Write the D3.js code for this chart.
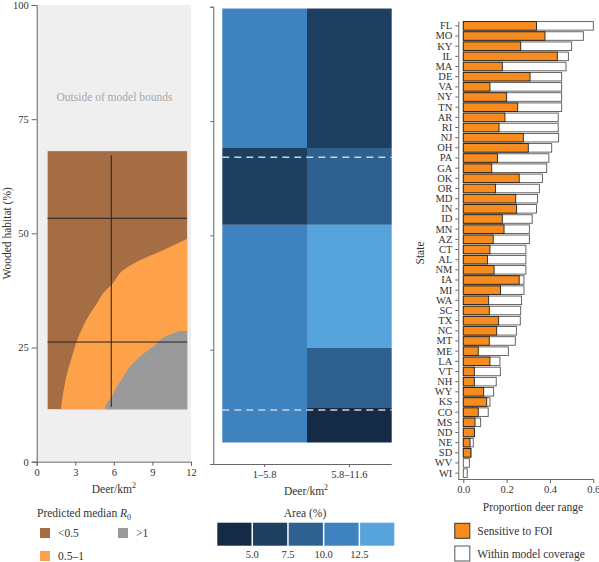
<!DOCTYPE html>
<html lang="en">
<head>
<meta charset="utf-8">
<title>R0 by deer density and wooded habitat</title>
<script src="https://d3js.org/d3.v7.min.js"></script>
<style>
  body { margin: 0; background: #fff; }
  svg { font-family: "Liberation Serif", "DejaVu Serif", serif; }
  .axis path, .axis line { stroke: #666; }
  .axis text { fill: #333; font-size: 10.5px; font-family: "Liberation Serif", serif; }
  .lbl { fill: #333; font-size: 11.5px; }
</style>
</head>
<body>
<svg width="599" height="562"></svg>
<script>
// ---- left panel: R0 regions (deer/km2, wooded %) ----
var deerRange = [0.85, 11.7];
var woodRange = [11.5, 68];
// boundary where median R0 crosses 0.5 (brown -> orange)
var lowBoundWood = [11.5, 13.5, 17.2, 20.1, 22.9, 26.0, 28.2, 31.7, 34.7, 36.9, 39.1, 41.9, 44.1, 46.3, 48.8];
var lowBoundDeer = [1.89, 1.97, 2.20, 2.43, 2.74, 3.06, 3.37, 3.99, 4.69, 5.16, 5.93, 6.71, 8.03, 9.82, 11.69];
// boundary where median R0 crosses 1 (orange -> grey)
var highBoundWood = [11.5, 12.4, 14.2, 16.4, 18.6, 20.8, 23.0, 25.2, 27.5, 28.6];
var highBoundDeer = [5.31, 5.39, 5.83, 6.22, 6.74, 7.26, 8.03, 9.07, 10.1, 11.1];
var crossDeer = 5.8;
var crossWood = [53.3, 26.2];
var crossWoodSpan = [12.0, 67.1];

// ---- middle panel: area (%) by bins ----
var deerBins = ["1\u20135.8", "5.8\u201311.6"];
var cellBin  = [0, 0, 0, 1, 1, 1, 1, 1];
var cellLo   = [69.1, 52.3, 4.7, 69.1, 52.3, 25.4, 12.4, 4.7];
var cellHi   = [99.6, 69.1, 52.3, 99.6, 69.1, 52.3, 25.4, 12.4];
var cellArea = [11, 6.5, 11.5, 6, 8.5, 13.5, 8.5, 3];
var boundLines = [67.1, 11.8];
var areaBreaks = [5, 7.5, 10, 12.5];
var areaColors = ["#152b45", "#1e3f5f", "#2e6190", "#3e82bf", "#57a3dc"];

// ---- right panel: proportion of deer range by state ----
var states = ["FL","MO","KY","IL","MA","DE","VA","NY","TN","AR","RI","NJ","OH","PA","GA","OK","OR","MD","IN","ID","MN","AZ","CT","AL","NM","IA","MI","WA","SC","TX","NC","MT","ME","LA","VT","NH","WY","KS","CO","MS","ND","NE","SD","WV","WI"];
var coverage = [0.60,0.554,0.50,0.485,0.474,0.454,0.454,0.454,0.454,0.438,0.438,0.44,0.408,0.395,0.385,0.365,0.351,0.343,0.338,0.318,0.305,0.305,0.289,0.289,0.289,0.28,0.28,0.269,0.265,0.263,0.245,0.24,0.208,0.169,0.171,0.152,0.14,0.123,0.115,0.08,0.051,0.046,0.035,0.028,0.018];
var sensitive = [0.338,0.377,0.265,0.434,0.18,0.308,0.123,0.20,0.251,0.192,0.165,0.277,0.30,0.158,0.131,0.258,0.149,0.242,0.246,0.18,0.188,0.138,0.123,0.112,0.142,0.258,0.172,0.117,0.12,0.163,0.154,0.12,0.069,0.123,0.051,0.051,0.094,0.108,0.069,0.054,0.051,0.031,0.035,0,0];

var svg = d3.select("svg");
var brown = "#a56d43", orange = "#fda24b", grey = "#9a9a9a";

// ===== left panel =====
var x1 = d3.scaleLinear().domain([0, 12]).range([36.7, 191]);
var y1 = d3.scaleLinear().domain([0, 100]).range([461.7, 5]);
var left = svg.append("g");

left.append("rect")
  .attr("x", x1(0)).attr("y", y1(100))
  .attr("width", x1(12) - x1(0)).attr("height", y1(0) - y1(100))
  .attr("fill", "#efefef");

left.append("text").attr("x", x1(6.05)).attr("y", 100.5)
  .attr("text-anchor", "middle").attr("font-size", "11.5px").attr("fill", "#a8a8a8")
  .text("Outside of model bounds");

left.append("rect")
  .attr("x", x1(deerRange[0])).attr("y", y1(woodRange[1]))
  .attr("width", x1(deerRange[1]) - x1(deerRange[0]))
  .attr("height", y1(woodRange[0]) - y1(woodRange[1]))
  .attr("fill", brown);

var lowPts = lowBoundWood.map(function(w, i) { return [lowBoundDeer[i], w]; });
var highPts = highBoundWood.map(function(w, i) { return [highBoundDeer[i], w]; });

var region = d3.area()
  .y(function(d) { return y1(d[1]); })
  .x0(function(d) { return x1(d[0]); })
  .x1(x1(deerRange[1]))
  .curve(d3.curveMonotoneY);

left.append("path").datum(lowPts).attr("d", region).attr("fill", orange);
left.append("path").datum(highPts).attr("d", region).attr("fill", grey);

left.append("line")
  .attr("x1", x1(crossDeer)).attr("x2", x1(crossDeer))
  .attr("y1", y1(crossWoodSpan[1])).attr("y2", y1(crossWoodSpan[0]))
  .attr("stroke", "#222").attr("stroke-width", 1);
left.selectAll(".hline").data(crossWood).enter().append("line")
  .attr("x1", x1(deerRange[0])).attr("x2", x1(deerRange[1]))
  .attr("y1", function(d) { return y1(d); }).attr("y2", function(d) { return y1(d); })
  .attr("stroke", "#222").attr("stroke-width", 1);

left.append("g").attr("class", "axis")
  .attr("transform", "translate(" + x1(0) + ",0)")
  .call(d3.axisLeft(y1).tickValues([0, 25, 50, 75, 100]).tickSize(5).tickPadding(3));
left.append("g").attr("class", "axis")
  .attr("transform", "translate(0," + y1(0) + ")")
  .call(d3.axisBottom(x1).tickValues([0, 3, 6, 9, 12]).tickSize(4).tickPadding(3));

left.append("text").attr("class", "lbl")
  .attr("transform", "translate(11," + y1(50) + ") rotate(-90)")
  .attr("text-anchor", "middle").text("Wooded habitat (%)");

function deerLabel(g, cx, cy) {
  var t = g.append("text").attr("class", "lbl").attr("x", cx).attr("y", cy).attr("text-anchor", "middle");
  t.append("tspan").text("Deer/km");
  t.append("tspan").attr("dy", -5).attr("font-size", "8px").text("2");
}
deerLabel(left, x1(6), 493);

// R0 legend
var lg = svg.append("g");
var r0t = lg.append("text").attr("class", "lbl").attr("x", 37).attr("y", 517);
r0t.append("tspan").text("Predicted median ");
r0t.append("tspan").attr("font-style", "italic").text("R");
r0t.append("tspan").attr("dy", 3).attr("font-size", "8px").text("0");
var r0Items = [[40, 528, brown, "<0.5"], [118, 528, grey, ">1"], [40, 551, orange, "0.5\u20131"]];
r0Items.forEach(function(d) {
  lg.append("rect").attr("x", d[0]).attr("y", d[1]).attr("width", 10).attr("height", 10).attr("fill", d[2]);
  lg.append("text").attr("class", "lbl").attr("x", d[0] + 18).attr("y", d[1] + 9).attr("font-size", "11px").text(d[3]);
});

// ===== middle panel =====
var x2 = d3.scaleBand().domain(deerBins).range([222.3, 391.7]);
var y2 = d3.scaleLinear().domain([0, 100]).range([464, 6.7]);
var areaColor = d3.scaleThreshold().domain(areaBreaks).range(areaColors);
var mid = svg.append("g");

mid.selectAll(".cell").data(cellArea).enter().append("rect")
  .attr("x", function(d, i) { return x2(deerBins[cellBin[i]]); })
  .attr("width", x2.bandwidth())
  .attr("y", function(d, i) { return y2(cellHi[i]); })
  .attr("height", function(d, i) { return y2(cellLo[i]) - y2(cellHi[i]); })
  .attr("fill", function(d) { return areaColor(d); });

mid.selectAll(".bound").data(boundLines).enter().append("line")
  .attr("x1", 222.3).attr("x2", 391.7)
  .attr("y1", function(d) { return y2(d); }).attr("y2", function(d) { return y2(d); })
  .attr("stroke", "#c9d5e2").attr("stroke-width", 1.5).attr("stroke-dasharray", "7,5");

mid.append("g").attr("class", "axis")
  .attr("transform", "translate(213.3,0)")
  .call(d3.axisLeft(y2).tickValues([0, 25, 50, 75, 100]).tickSize(3).tickFormat(""));
var xa2 = mid.append("g").attr("class", "axis")
  .attr("transform", "translate(0," + y2(0) + ")")
  .call(d3.axisBottom(x2).tickSize(3).tickPadding(4).tickSizeOuter(0));
xa2.select(".domain").attr("d", "M213.3,0.5H391.7");
deerLabel(mid, 306, 495);

// area legend
var boxW = 35.7, boxX0 = 217.3;
var al = svg.append("g");
al.append("text").attr("class", "lbl").attr("x", 305).attr("y", 517).attr("text-anchor", "middle").text("Area (%)");
al.selectAll(".box").data(areaColors).enter().append("rect")
  .attr("x", function(d, i) { return boxX0 + i * boxW; })
  .attr("y", 522.7).attr("width", boxW - 1.5).attr("height", 23)
  .attr("fill", function(d) { return d; });
al.selectAll(".brk").data(areaBreaks).enter().append("text")
  .attr("x", function(d, i) { return boxX0 + (i + 1) * boxW - 0.75; })
  .attr("y", 558).attr("text-anchor", "middle").attr("font-size", "10.5px").attr("fill", "#333")
  .text(function(d) { return d.toFixed(1); });

// ===== right panel =====
var x3 = d3.scaleLinear().domain([0, 0.6]).range([463.3, 593.3]);
var y3 = d3.scaleBand().domain(states).range([21.6, 477.4]).paddingInner(0.16);
var right = svg.append("g");

right.selectAll(".cov").data(coverage).enter().append("rect")
  .attr("x", x3(0)).attr("y", function(d, i) { return y3(states[i]); })
  .attr("width", function(d) { return x3(d) - x3(0); })
  .attr("height", y3.bandwidth())
  .attr("fill", "#fff").attr("stroke", "#555").attr("stroke-width", 0.9);
right.selectAll(".sen").data(sensitive).enter().append("rect")
  .attr("x", x3(0)).attr("y", function(d, i) { return y3(states[i]); })
  .attr("width", function(d) { return x3(d) - x3(0); })
  .attr("height", y3.bandwidth())
  .attr("display", function(d) { return d > 0 ? null : "none"; })
  .attr("fill", "#f68c1f").attr("stroke", "#222").attr("stroke-width", 0.9);

var ya3 = right.append("g").attr("class", "axis")
  .attr("transform", "translate(458.3,0)")
  .call(d3.axisLeft(y3).tickSize(3).tickPadding(3).tickSizeOuter(0));
ya3.select(".domain").attr("d", "M0.5,21.6V479");
var xa3 = right.append("g").attr("class", "axis")
  .attr("transform", "translate(0,479)")
  .call(d3.axisBottom(x3).tickValues([0, 0.2, 0.4, 0.6]).tickFormat(d3.format(".1f")).tickSize(4).tickPadding(3));
xa3.select(".domain").attr("d", "M458.3,0.5H593.3");

right.append("text").attr("class", "lbl")
  .attr("transform", "translate(424,253) rotate(-90)")
  .attr("text-anchor", "middle").text("State");
right.append("text").attr("class", "lbl").attr("x", 533).attr("y", 511)
  .attr("text-anchor", "middle").text("Proportion deer range");

var rItems = [[523.3, "#f68c1f", "#333", "Sensitive to FOI"], [546, "#fff", "#555", "Within model coverage"]];
rItems.forEach(function(d) {
  right.append("rect").attr("x", 454.8).attr("y", d[0]).attr("width", 15).attr("height", 15)
    .attr("fill", d[1]).attr("stroke", d[2]).attr("stroke-width", 1);
  right.append("text").attr("class", "lbl").attr("x", 477.3).attr("y", d[0] + 11.5)
    .attr("font-size", "11px").text(d[3]);
});
</script>
</body>
</html>
